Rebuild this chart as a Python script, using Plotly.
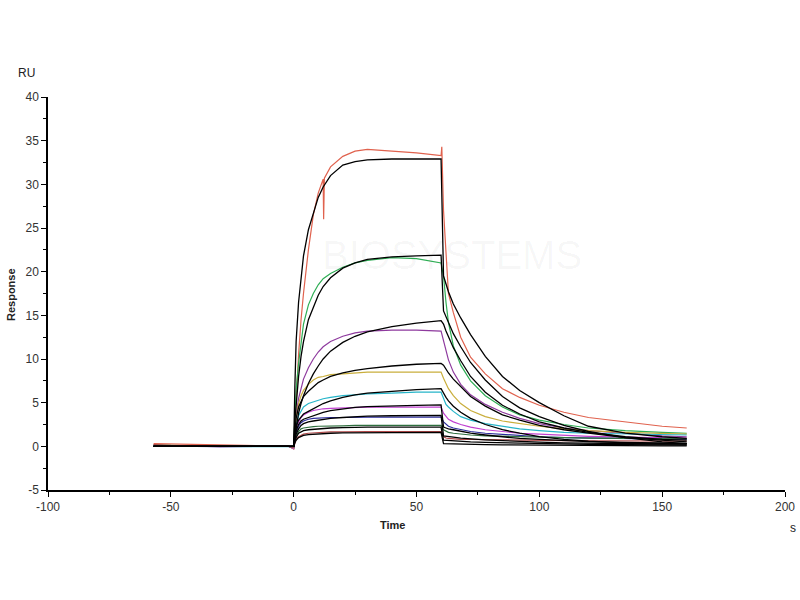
import plotly.graph_objects as go

# ---------------- data ----------------
T_BASE = [-57, -50, -40, -30, -20, -10, -2, 0]
T_ASSOC = [0.5, 1, 2, 3, 4, 6, 8, 10, 12, 15, 20, 25, 30, 40, 50, 60]
T_DISS = [61, 62, 63, 65, 68, 72, 78, 85, 92, 100, 110, 120, 135, 150, 160]

COLORS = ["#E0624E", "#2FAE55", "#8E3A9E", "#C9AE3C", "#27B5C9",
          "#C040D0", "#2B2B9B", "#2F6F3F", "#B04848"]

# measured sensorgrams: baseline / association / dissociation
DATA_BASE = [
    [0.3, 0.25, 0.2, 0.15, 0.1, 0.05, 0.0, -0.3],
    [0.15, 0.1, 0.05, 0.0, 0.05, 0.0, 0.0, -0.2],
    [0.1, 0.05, 0.0, -0.05, 0.0, 0.05, 0.0, -0.25],
    [0.1, 0.1, 0.05, 0.0, 0.0, 0.0, 0.0, -0.2],
    [0.05, 0.05, 0.0, 0.0, -0.05, 0.0, 0.0, -0.15],
    [0.1, 0.0, 0.05, 0.0, 0.0, 0.0, 0.0, -0.2],
    [0.05, 0.0, 0.0, -0.05, 0.0, 0.0, 0.0, -0.1],
    [0.1, 0.05, 0.0, 0.0, 0.0, 0.0, 0.0, -0.1],
    [0.2, 0.1, 0.05, 0.0, 0.0, 0.0, 0.0, -0.1],
]
DATA_ASSOC = [
    [2.5, 5.0, 10.5, 14.5, 17.5, 22.5, 26.5, 29.0, 30.6, 32.0, 33.2, 33.8, 34.0, 33.8, 33.6, 33.3],
    [4.0, 6.5, 9.5, 12.0, 14.0, 16.2, 17.5, 18.5, 19.2, 19.8, 20.5, 21.0, 21.3, 21.6, 21.5, 21.0],
    [2.0, 3.5, 5.5, 6.8, 7.7, 9.0, 10.0, 10.8, 11.4, 12.0, 12.6, 13.0, 13.2, 13.3, 13.3, 13.2],
    [2.0, 3.3, 4.9, 5.8, 6.4, 7.1, 7.6, 7.9, 8.0, 8.2, 8.3, 8.4, 8.5, 8.5, 8.5, 8.5],
    [1.5, 2.4, 3.5, 4.1, 4.5, 4.9, 5.1, 5.3, 5.45, 5.6, 5.8, 5.9, 6.0, 6.1, 6.2, 6.2],
    [1.2, 2.0, 2.8, 3.3, 3.6, 3.9, 4.1, 4.2, 4.3, 4.35, 4.4, 4.45, 4.5, 4.5, 4.5, 4.5],
    [1.0, 1.6, 2.3, 2.7, 2.9, 3.1, 3.2, 3.25, 3.3, 3.3, 3.3, 3.35, 3.35, 3.35, 3.35, 3.35],
    [0.7, 1.2, 1.7, 2.0, 2.1, 2.2, 2.25, 2.3, 2.3, 2.35, 2.35, 2.4, 2.4, 2.4, 2.4, 2.4],
    [0.5, 0.8, 1.1, 1.3, 1.4, 1.5, 1.55, 1.6, 1.6, 1.65, 1.65, 1.7, 1.7, 1.7, 1.7, 1.7],
]
DATA_DISS = [
    [27.0, 21.5, 17.5, 15.3, 12.5, 10.2, 8.3, 6.6, 5.6, 4.7, 3.9, 3.3, 2.8, 2.3, 2.1],
    [19.5, 16.5, 14.2, 11.5, 9.3, 7.5, 5.8, 4.5, 3.6, 3.0, 2.5, 2.1, 1.8, 1.6, 1.5],
    [12.0, 10.8, 9.9, 8.5, 7.1, 5.9, 4.8, 3.9, 3.2, 2.6, 2.1, 1.8, 1.5, 1.2, 1.1],
    [7.8, 7.1, 6.6, 5.8, 4.9, 4.1, 3.4, 2.9, 2.6, 2.3, 2.0, 1.8, 1.6, 1.5, 1.4],
    [5.4, 4.8, 4.5, 4.0, 3.4, 3.0, 2.6, 2.3, 2.0, 1.8, 1.6, 1.5, 1.4, 1.3, 1.3],
    [3.8, 3.4, 3.1, 2.8, 2.5, 2.2, 1.9, 1.7, 1.5, 1.4, 1.25, 1.15, 1.05, 1.0, 0.95],
    [2.8, 2.5, 2.3, 2.1, 1.9, 1.7, 1.5, 1.35, 1.2, 1.1, 1.0, 0.95, 0.9, 0.85, 0.8],
    [1.9, 1.7, 1.6, 1.5, 1.4, 1.3, 1.2, 1.15, 1.1, 1.05, 1.0, 0.95, 0.9, 0.9, 0.85],
    [1.1, 0.95, 0.9, 0.85, 0.8, 0.78, 0.75, 0.72, 0.7, 0.68, 0.66, 0.64, 0.62, 0.6, 0.6],
]
# occasional spikes in the red sensorgram
RED_SPIKE_T = [12.2, 12.5, 60.3]
RED_SPIKE_V = [26.0, 30.7, 34.3]

# fitted curves (black)
FIT_ASSOC = [
    [7.0, 12.0, 16.5, 19.5, 21.8, 24.8, 26.8, 28.5, 29.7, 31.0, 32.2, 32.6, 32.8, 32.9, 32.9, 32.9],
    [3.0, 5.0, 8.0, 10.3, 12.0, 14.5, 16.0, 17.3, 18.3, 19.3, 20.4, 21.0, 21.4, 21.7, 21.8, 21.9],
    [1.2, 2.2, 3.8, 4.9, 5.8, 7.2, 8.3, 9.2, 10.0, 10.9, 11.9, 12.6, 13.1, 13.7, 14.1, 14.4],
    [1.8, 3.2, 4.5, 5.2, 5.7, 6.3, 6.8, 7.3, 7.6, 8.0, 8.4, 8.7, 8.9, 9.2, 9.4, 9.5],
    [1.3, 2.3, 3.0, 3.4, 3.7, 4.0, 4.3, 4.6, 4.9, 5.2, 5.6, 5.9, 6.1, 6.3, 6.5, 6.6],
    [1.0, 1.8, 2.5, 2.9, 3.1, 3.3, 3.5, 3.7, 3.9, 4.1, 4.3, 4.45, 4.55, 4.65, 4.7, 4.75],
    [0.8, 1.4, 2.0, 2.4, 2.6, 2.8, 2.9, 3.0, 3.1, 3.2, 3.3, 3.4, 3.45, 3.5, 3.5, 3.55],
    [0.6, 1.0, 1.5, 1.7, 1.8, 1.9, 1.95, 2.0, 2.05, 2.1, 2.15, 2.2, 2.2, 2.2, 2.2, 2.2],
    [0.4, 0.7, 1.0, 1.15, 1.25, 1.35, 1.4, 1.45, 1.5, 1.5, 1.55, 1.55, 1.6, 1.6, 1.6, 1.6],
]
FIT_DISS = [
    [19.5, 18.5, 17.7, 16.3, 14.7, 12.8, 10.3, 8.0, 6.4, 5.0, 3.5, 2.3, 1.5, 1.1, 0.9],
    [15.5, 14.8, 14.1, 12.9, 11.4, 9.6, 7.6, 5.7, 4.4, 3.4, 2.4, 1.7, 1.0, 0.5, 0.3],
    [14.0, 13.2, 12.5, 11.3, 9.8, 8.0, 6.2, 4.7, 3.7, 2.8, 2.1, 1.6, 1.1, 0.8, 0.7],
    [9.3, 8.8, 8.4, 7.7, 6.8, 5.7, 4.6, 3.6, 3.0, 2.4, 1.9, 1.5, 1.0, 0.7, 0.5],
    [6.0, 5.6, 5.2, 4.6, 3.9, 3.2, 2.5, 1.9, 1.5, 1.1, 0.8, 0.6, 0.4, 0.3, 0.3],
    [2.2, 2.1, 2.0, 1.9, 1.7, 1.5, 1.3, 1.1, 0.9, 0.8, 0.65, 0.55, 0.45, 0.4, 0.35],
    [1.2, 1.15, 1.1, 1.05, 0.95, 0.85, 0.75, 0.65, 0.55, 0.48, 0.4, 0.35, 0.3, 0.27, 0.25],
    [0.7, 0.68, 0.65, 0.6, 0.55, 0.5, 0.45, 0.4, 0.35, 0.3, 0.25, 0.22, 0.2, 0.17, 0.15],
    [0.3, 0.29, 0.28, 0.26, 0.24, 0.22, 0.2, 0.17, 0.15, 0.12, 0.1, 0.08, 0.07, 0.06, 0.05],
]
FIT_BASE = [0.0] * len(T_BASE)

X_TICKS = [-100, -50, 0, 50, 100, 150, 200]
X_TICK_TEXT = ["-100", "-50", "0", "50", "100", "150", "200"]
Y_TICKS = [-5, 0, 5, 10, 15, 20, 25, 30, 35, 40]
Y_TICK_TEXT = ["-5", "0", "5", "10", "15", "20", "25", "30", "35", "40"]

# ---------------- figure ----------------
fig = go.Figure()

for i, col in enumerate(COLORS):
    t = T_BASE + T_ASSOC + T_DISS
    v = DATA_BASE[i] + DATA_ASSOC[i] + DATA_DISS[i]
    if i == 0:
        pts = sorted(zip(t + RED_SPIKE_T, v + RED_SPIKE_V))
        t = [p[0] for p in pts]
        v = [p[1] for p in pts]
    fig.add_trace(go.Scatter(x=t, y=v, mode="lines",
                             line=dict(color=col, width=1.2),
                             showlegend=False, hoverinfo="skip"))

for i in range(len(FIT_ASSOC)):
    t = T_BASE + T_ASSOC + T_DISS
    v = FIT_BASE + FIT_ASSOC[i] + FIT_DISS[i]
    fig.add_trace(go.Scatter(x=t, y=v, mode="lines",
                             line=dict(color="#000000", width=1.3),
                             showlegend=False, hoverinfo="skip"))

font = dict(family="Liberation Sans, Arial, sans-serif", size=12, color="#333333")

# plot area in page pixels
x0, x1 = 48, 785
y0, y1 = 97, 490
fig.update_layout(
    width=800, height=600,
    margin=dict(l=x0, r=800 - x1, t=y0, b=600 - y1),
    paper_bgcolor="white", plot_bgcolor="white",
    font=font,
    xaxis=dict(range=[-100, 200], tickvals=X_TICKS, ticktext=X_TICK_TEXT,
               showgrid=False, zeroline=False, automargin=False,
               showline=True, linecolor="#000000", linewidth=1.5,
               ticks="outside", ticklen=5, tickcolor="#000000", tickwidth=1.2,
               minor=dict(dtick=25, ticks="outside", ticklen=3, tickcolor="#000000"),
               tickfont=font),
    yaxis=dict(range=[-5, 40], tickvals=Y_TICKS, ticktext=Y_TICK_TEXT,
               showgrid=False, zeroline=False, automargin=False,
               showline=True, linecolor="#000000", linewidth=1.5,
               ticks="outside", ticklen=5, tickcolor="#000000", tickwidth=1.2,
               minor=dict(dtick=2.5, ticks="outside", ticklen=3, tickcolor="#000000"),
               tickfont=font),
)

def px(x, y):
    return (x - x0) / (x1 - x0), (y1 - y) / (y1 - y0)

labels = [
    ("RU", 26, 73, 0, 12),
    ("<b>Response</b>", 11, 295, -90, 11),
    ("<b>Time</b>", 392, 525, 0, 11),
    ("s", 793, 528, 0, 12),
]
for text, x, y, ang, size in labels:
    xx, yy = px(x, y)
    fig.add_annotation(text=text, x=xx, y=yy, xref="paper", yref="paper",
                       textangle=ang, showarrow=False, xanchor="center", yanchor="middle",
                       font=dict(family="Liberation Sans, Arial, sans-serif", size=size,
                                 color="#222222"))
xx, yy = px(452, 255)
fig.add_annotation(text="BIOSYSTEMS", x=xx, y=yy, xref="paper", yref="paper",
                   showarrow=False, xanchor="center", yanchor="middle",
                   font=dict(family="Liberation Sans, Arial, sans-serif", size=40,
                             color="rgba(0,0,0,0.035)"))

fig.write_html("out.html",
               config={"displayModeBar": False},
               post_script="document.body.style.margin='0px';"
                           "document.body.style.overflow='hidden';")
